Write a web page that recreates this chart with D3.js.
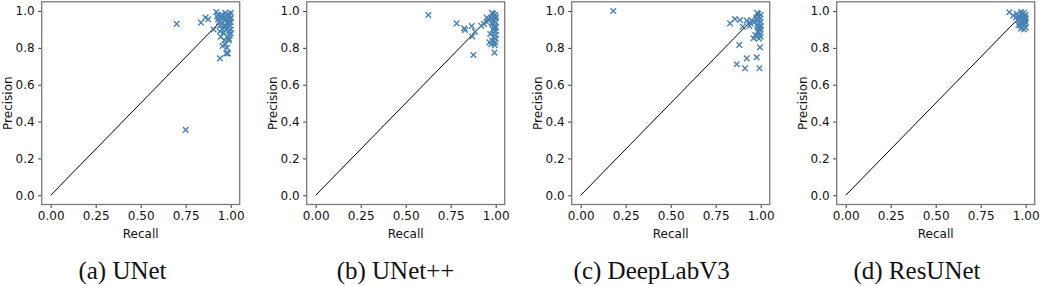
<!DOCTYPE html>
<html>
<head>
<meta charset="utf-8">
<script src="https://cdn.jsdelivr.net/npm/d3@7"></script>
<style>
  html, body { margin: 0; padding: 0; background: #fff; }
  svg { display: block; }
</style>
</head>
<body>
<svg id="chart" width="1040" height="286"></svg>
<script>
// ---------------- data ----------------
const captions = ["(a) UNet", "(b) UNet++", "(c) DeepLabV3", "(d) ResUNet"];
const xTickValues = [0, 0.25, 0.5, 0.75, 1.0];
const yTickValues = [0, 0.2, 0.4, 0.6, 0.8, 1.0];
const xLabel = "Recall";
const yLabel = "Precision";

// [recall, precision]
const unetPoints = [
  [0.70,0.93],[0.75,0.355],[0.835,0.937],[0.86,0.965],[0.875,0.955],[0.905,0.90],
  [0.92,0.995],[0.925,0.97],[0.93,0.955],[0.935,0.94],[0.94,0.92],[0.94,0.89],
  [0.945,0.86],[0.94,0.743],[0.95,0.98],[0.95,0.93],[0.955,0.90],[0.955,0.81],
  [0.96,0.96],[0.96,0.88],[0.965,0.95],[0.965,0.84],[0.97,0.99],[0.97,0.92],
  [0.97,0.82],[0.975,0.77],[0.975,0.97],[0.975,0.90],[0.98,0.94],[0.98,0.86],
  [0.98,0.80],[0.985,0.77],[0.985,0.98],[0.985,0.96],[0.985,0.91],[0.99,0.95],
  [0.99,0.93],[0.99,0.89],[0.99,0.84],[0.995,0.975],[0.995,0.94],[0.995,0.92],
  [0.995,0.87],[1.0,0.99],[1.0,0.96],[1.0,0.94],[1.0,0.90],[1.0,0.88],
  [0.99,0.85],[0.96,0.92],[0.95,0.96],[0.93,0.98]
];
const unetppPoints = [
  [0.626,0.978],[0.783,0.933],[0.825,0.906],[0.83,0.897],[0.867,0.918],[0.87,0.862],
  [0.885,0.888],[0.876,0.761],[0.92,0.92],[0.935,0.93],[0.95,0.94],[0.95,0.965],
  [0.96,0.95],[0.965,0.83],[0.97,0.875],[0.975,0.82],[0.975,0.96],[0.98,0.99],
  [0.98,0.93],[0.98,0.84],[0.985,0.90],[0.985,0.97],[0.99,0.95],[0.99,0.88],
  [0.99,0.86],[0.993,0.774],[0.995,0.92],[0.995,0.98],[0.995,0.83],[0.995,0.815],
  [1.0,0.96],[1.0,0.94],[1.0,0.91],[1.0,0.89],[1.0,0.87],[1.0,0.85],[1.0,0.97],
  [0.99,0.91],[0.985,0.94]
];
const deeplabPoints = [
  [0.181,1.0],[0.83,0.933],[0.857,0.957],[0.885,0.951],[0.881,0.816],[0.867,0.711],
  [0.90,0.915],[0.913,0.689],[0.922,0.743],[0.922,0.948],[0.937,0.919],[0.944,0.933],
  [0.95,0.95],[0.96,0.852],[0.965,0.94],[0.97,0.87],[0.975,0.96],[0.978,0.749],
  [0.98,0.99],[0.98,0.92],[0.98,0.86],[0.985,0.95],[0.985,0.89],[0.99,0.97],
  [0.99,0.93],[0.99,0.88],[0.99,0.85],[0.993,0.689],[0.995,0.96],[0.995,0.91],
  [0.995,0.87],[0.996,0.803],[1.0,0.98],[1.0,0.94],[1.0,0.90],[1.0,0.86],
  [1.0,0.92],[0.985,0.91]
];
const resunetPoints = [
  [0.909,0.993],[0.93,0.975],[0.945,0.965],[0.95,0.985],[0.955,0.95],[0.96,0.97],
  [0.965,0.94],[0.97,0.96],[0.97,0.92],[0.975,0.995],[0.975,0.95],[0.98,0.93],
  [0.98,0.98],[0.98,0.91],[0.985,0.96],[0.985,0.94],[0.99,0.99],[0.99,0.92],
  [0.99,0.90],[0.995,0.97],[0.995,0.95],[0.995,0.93],[1.0,0.98],[1.0,0.96],
  [1.0,0.94],[1.0,0.91],[0.99,0.96],[0.96,0.925],[0.975,0.905]
];
const diagonal = [[0,0],[1,1]];

const panels = [unetPoints, unetppPoints, deeplabPoints, resunetPoints];

// ---------------- layout ----------------
const panelStep = 265;
const frameLeft0 = 41.7;
const frameTop = 1.8;
const frameW = 198;
const frameH = 202.7;
const captionCenters = [122.5, 395.5, 651.7, 917];
const captionBaseline = 279;
const markerColor = "#4682b4";
const tickFont = "DejaVu Sans, sans-serif";
const fontSize = 12;

const svg = d3.select("#chart");

panels.forEach((pts, i) => {
  const left = frameLeft0 + i * panelStep;
  const g = svg.append("g").attr("transform", `translate(${left},${frameTop})`);

  const x = d3.scaleLinear().domain([-0.05, 1.05]).range([0, frameW]);
  const y = d3.scaleLinear().domain([-0.05, 1.05]).range([frameH, 0]);

  // diagonal line
  g.append("path")
    .datum(diagonal)
    .attr("d", d3.line().x(d => x(d[0])).y(d => y(d[1])))
    .attr("fill", "none")
    .attr("stroke", "#000")
    .attr("stroke-width", 1);

  // x markers
  const s = 2.8;
  g.selectAll("path.mark")
    .data(pts)
    .enter().append("path")
    .attr("class", "mark")
    .attr("d", d => {
      const cx = x(d[0]), cy = y(d[1]);
      return `M${cx - s},${cy - s}L${cx + s},${cy + s}M${cx - s},${cy + s}L${cx + s},${cy - s}`;
    })
    .attr("stroke", markerColor)
    .attr("stroke-width", 1.4)
    .attr("fill", "none");

  // axes
  const xAxis = g.append("g")
    .attr("transform", `translate(0,${frameH})`)
    .call(d3.axisBottom(x).tickValues(xTickValues).tickFormat(d3.format(".2f")).tickSize(3.5).tickPadding(3.5));
  const yAxis = g.append("g")
    .call(d3.axisLeft(y).tickValues(yTickValues).tickFormat(d3.format(".1f")).tickSize(3.5).tickPadding(3.5));
  [xAxis, yAxis].forEach(ax => {
    ax.select(".domain").remove();
    ax.selectAll(".tick line").attr("stroke", "#222").attr("stroke-width", 0.9);
    ax.selectAll(".tick text").attr("font-family", tickFont).attr("font-size", fontSize).attr("fill", "#111");
  });

  // frame
  g.append("rect")
    .attr("x", 0).attr("y", 0).attr("width", frameW).attr("height", frameH)
    .attr("fill", "none").attr("stroke", "#7a7a7a").attr("stroke-width", 1.3);

  // axis labels
  g.append("text")
    .attr("x", x(0.5)).attr("y", frameH + 33.5)
    .attr("text-anchor", "middle")
    .attr("font-family", tickFont).attr("font-size", fontSize).attr("fill", "#111")
    .text(xLabel);
  g.append("text")
    .attr("transform", `translate(${x(0) - 39},${y(0.5)}) rotate(-90)`)
    .attr("text-anchor", "middle")
    .attr("font-family", tickFont).attr("font-size", fontSize).attr("fill", "#111")
    .text(yLabel);

  // caption
  svg.append("text")
    .attr("x", captionCenters[i]).attr("y", captionBaseline)
    .attr("text-anchor", "middle")
    .attr("font-family", "Liberation Serif, Times New Roman, serif")
    .attr("font-size", 25).attr("fill", "#111")
    .text(captions[i]);
});
</script>
</body>
</html>
